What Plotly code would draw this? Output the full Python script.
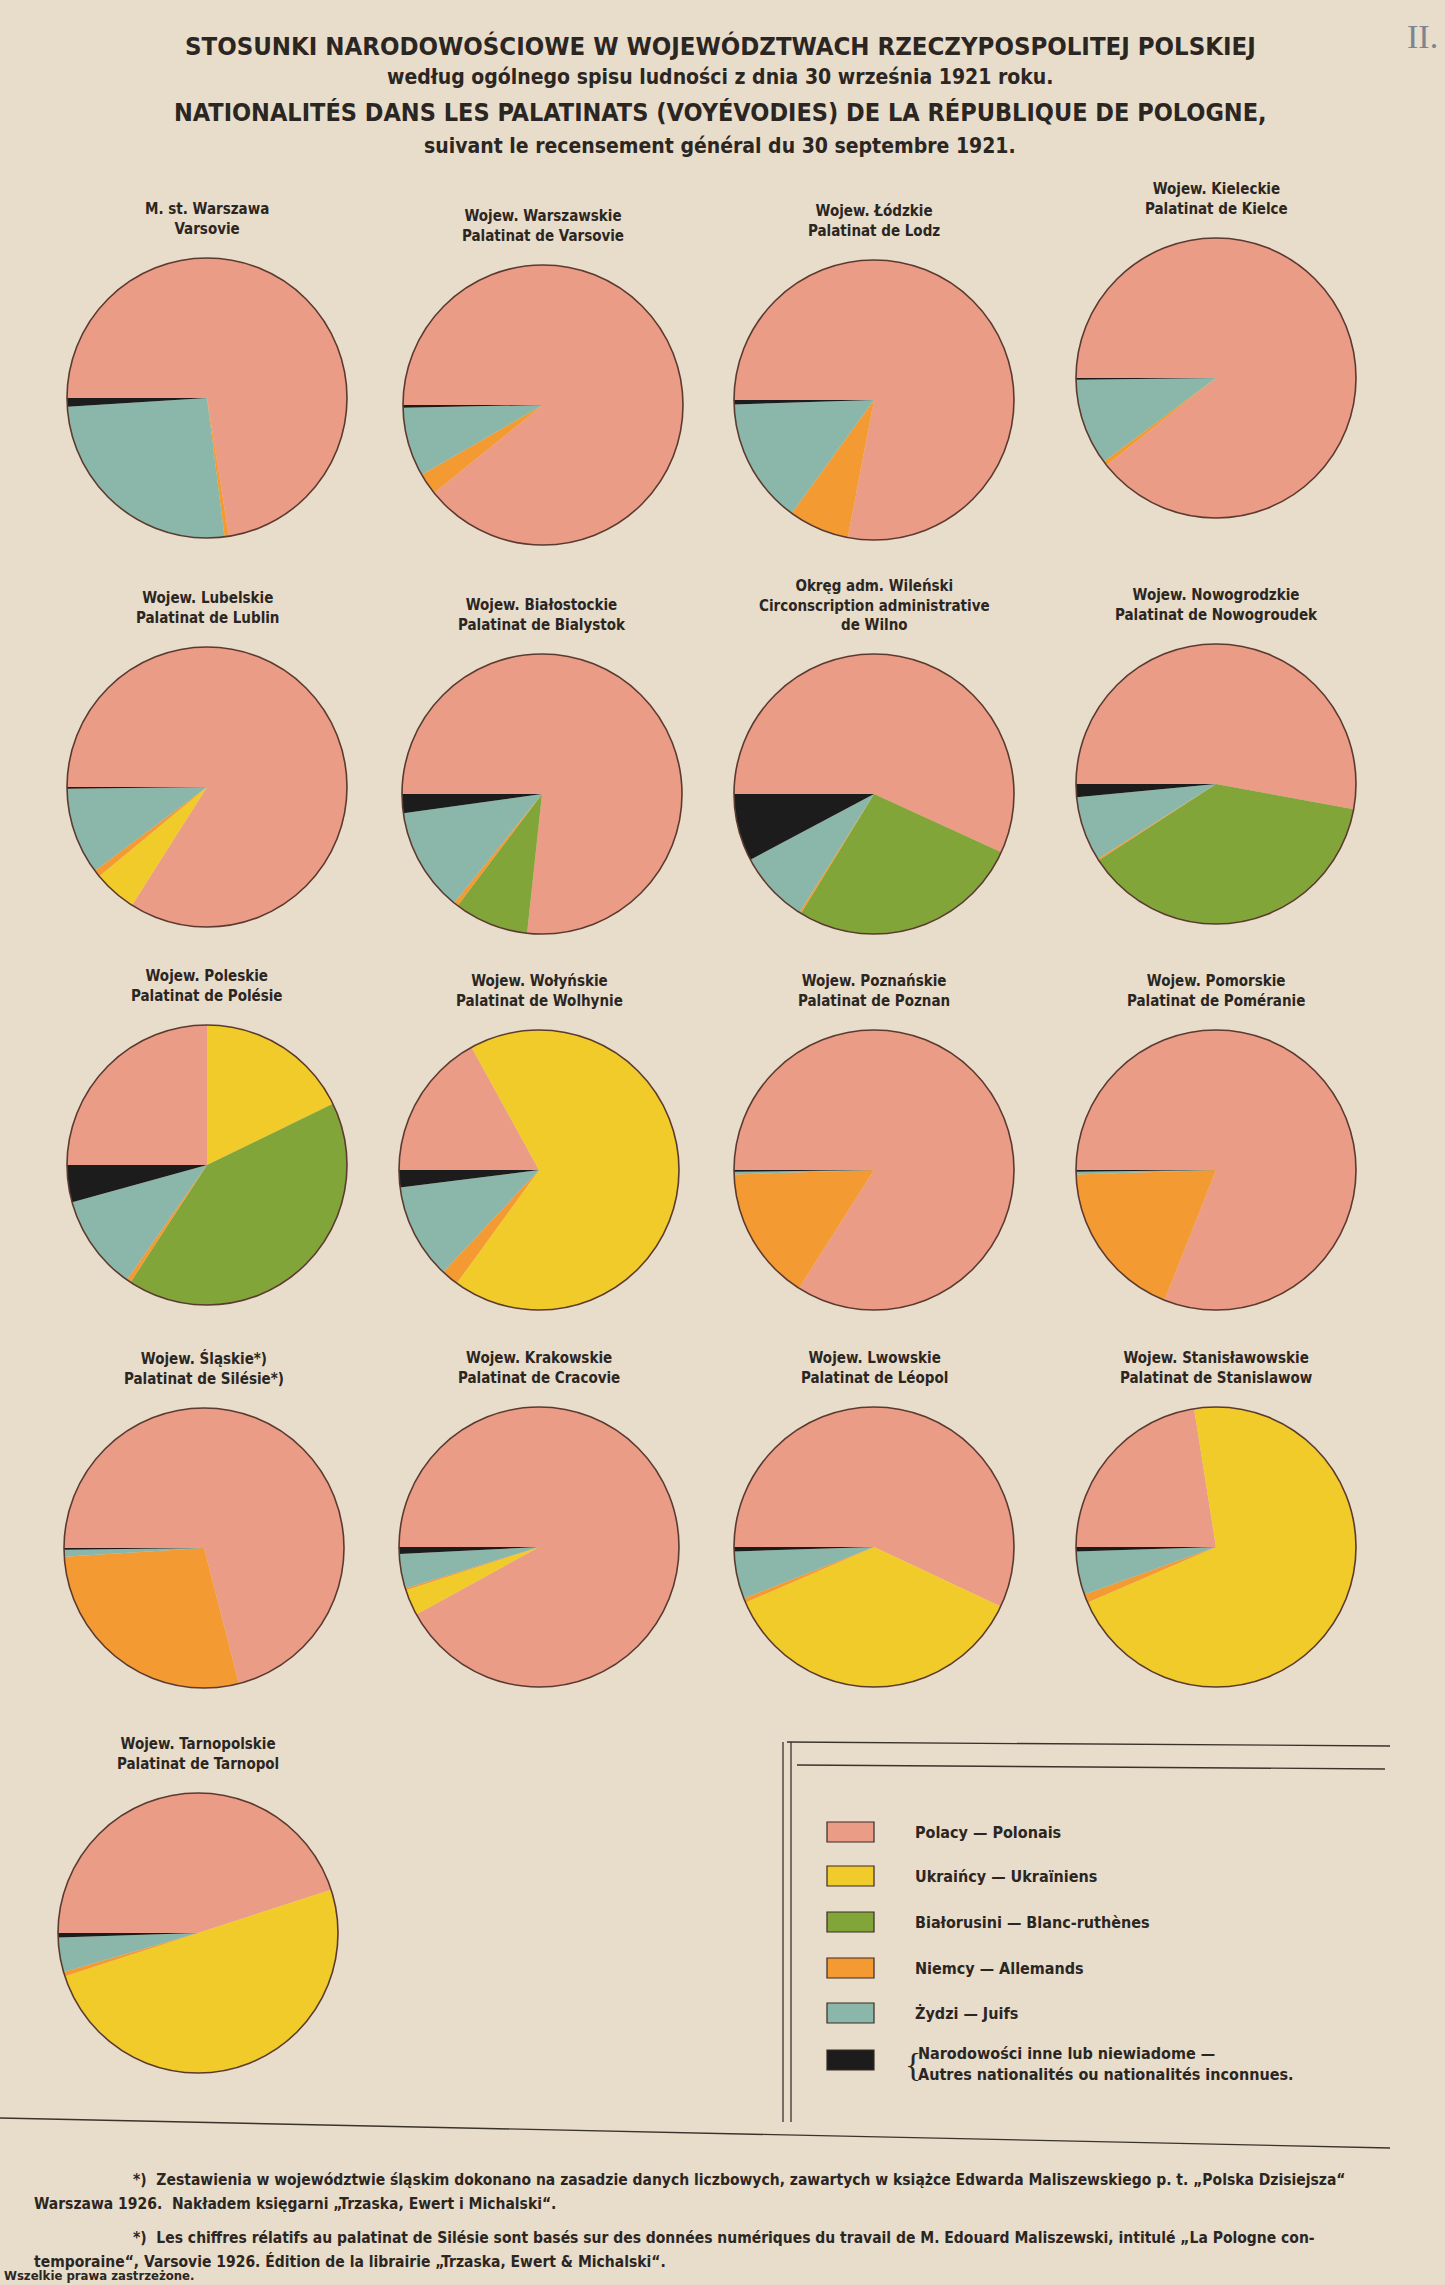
import plotly.graph_objects as go

W, H = 1445, 2285

# ---------------- data ----------------
labels_pl = ["M. st. Warszawa", "Wojew. Warszawskie", "Wojew. Łódzkie", "Wojew. Kieleckie",
             "Wojew. Lubelskie", "Wojew. Białostockie", "Okręg adm. Wileński", "Wojew. Nowogrodzkie",
             "Wojew. Poleskie", "Wojew. Wołyńskie", "Wojew. Poznańskie", "Wojew. Pomorskie",
             "Wojew. Śląskie*)", "Wojew. Krakowskie", "Wojew. Lwowskie", "Wojew. Stanisławowskie",
             "Wojew. Tarnopolskie"]
labels_fr = ["Varsovie", "Palatinat de Varsovie", "Palatinat de Lodz", "Palatinat de Kielce",
             "Palatinat de Lublin", "Palatinat de Bialystok", "Circonscription administrative<br>de Wilno",
             "Palatinat de Nowogroudek", "Palatinat de Polésie", "Palatinat de Wolhynie",
             "Palatinat de Poznan", "Palatinat de Poméranie", "Palatinat de Silésie*)",
             "Palatinat de Cracovie", "Palatinat de Léopol", "Palatinat de Stanislawow",
             "Palatinat de Tarnopol"]

nationalities = ["Polacy — Polonais", "Ukraińcy — Ukraïniens", "Białorusini — Blanc-ruthènes",
                 "Niemcy — Allemands", "Żydzi — Juifs",
                 "Narodowości inne lub niewiadome —<br>Autres nationalités ou nationalités inconnues."]

polacy      = [72.5, 89.2, 78.0, 89.3, 84.0, 76.7, 57.0, 53.0, 25.0, 17.0, 84.0, 81.0, 71.0, 92.0, 57.0, 22.5, 45.0]
ukraincy    = [0.0,  0.0,  0.0,  0.0,  5.0,  0.0,  0.0,  0.0, 17.8, 68.0,  0.0,  0.0,  0.0,  3.0, 36.5, 71.0, 50.0]
bialorusini = [0.0,  0.0,  0.0,  0.0,  0.0,  8.6, 27.0, 38.0, 41.4,  0.0,  0.0,  0.0,  0.0,  0.0,  0.0,  0.0,  0.0]
niemcy      = [0.5,  2.5,  7.0,  0.5,  0.8,  0.5,  0.2,  0.2,  0.5,  2.0, 15.5, 18.5, 28.0,  0.2,  0.5,  1.0,  0.5]
zydzi       = [26.0, 8.0, 14.5, 10.0, 10.0, 12.0,  8.3,  7.5, 11.0, 11.0,  0.3,  0.3,  0.8,  4.0,  5.5,  5.0,  4.0]
inne        = [1.0,  0.3,  0.5,  0.2,  0.2,  2.2,  7.8,  1.5,  4.3,  2.0,  0.2,  0.2,  0.2,  0.8,  0.5,  0.5,  0.5]

series = [polacy, ukraincy, bialorusini, niemcy, zydzi, inne]

# ---------------- styling / layout ----------------
colors = ["#eb9c86", "#f1cb2a", "#82a53a", "#f39a33", "#8bb7aa", "#1c1c1c"]
paper = "#e8dcca"
ink = "#2b2622"
FONT = "Liberation Sans Narrow, DejaVu Sans Condensed, Liberation Sans, Arial, sans-serif"

centers = [(207, 398), (543, 405), (874, 400), (1216, 378),
           (207, 787), (542, 794), (874, 794), (1216, 784),
           (207, 1165), (539, 1170), (874, 1170), (1216, 1170),
           (204, 1548), (539, 1547), (874, 1547), (1216, 1547),
           (198, 1933)]
R = 140

fig = go.Figure()
shapes = []
annotations = []

for i, (cx, cy) in enumerate(centers):
    vals = [s[i] for s in series]
    fig.add_trace(go.Pie(
        labels=nationalities, values=vals, sort=False, direction="clockwise",
        rotation=270, textinfo="none", hoverinfo="label+percent",
        marker=dict(colors=colors, line=dict(width=0)),
        domain=dict(x=[(cx - R) / W, (cx + R) / W], y=[1 - (cy + R) / H, 1 - (cy - R) / H]),
        showlegend=False,
    ))
    shapes.append(dict(type="circle", xref="paper", yref="paper", layer="above",
                       x0=(cx - R) / W, x1=(cx + R) / W, y0=1 - (cy + R) / H, y1=1 - (cy - R) / H,
                       line=dict(color="#5b3a30", width=1.6)))
    annotations.append(dict(
        text=f"<b>{labels_pl[i]}<br>{labels_fr[i]}</b>", x=cx / W, y=1 - (cy - R - 18) / H,
        xref="paper", yref="paper", xanchor="center", yanchor="bottom", showarrow=False,
        align="center", font=dict(family=FONT, size=15, color=ink)))

# ---------------- title ----------------
title_lines = [
    ("STOSUNKI NARODOWOŚCIOWE W WOJEWÓDZTWACH RZECZYPOSPOLITEJ POLSKIEJ", 46, 25.5),
    ("według ogólnego spisu ludności z dnia 30 września 1921 roku.", 77, 21),
    ("NATIONALITÉS DANS LES PALATINATS (VOYÉVODIES) DE LA RÉPUBLIQUE DE POLOGNE,", 112, 25),
    ("suivant le recensement général du 30 septembre 1921.", 146, 21),
]
for txt, y, sz in title_lines:
    annotations.append(dict(text=f"<b>{txt}</b>", x=720 / W,
                            y=1 - y / H, xref="paper", yref="paper", xanchor="center",
                            yanchor="middle", showarrow=False,
                            font=dict(family=FONT, size=sz, color=ink)))
annotations.append(dict(text="II.", x=1440 / W, y=1 - 36 / H, xref="paper", yref="paper",
                        xanchor="right", yanchor="middle", showarrow=False,
                        font=dict(family="Liberation Serif, DejaVu Serif, serif", size=34, color="#7c8591")))

# ---------------- legend box ----------------
def hline(x0, x1, y0, y1, w=1.3, c="#3a332d"):
    shapes.append(dict(type="line", xref="paper", yref="paper", x0=x0 / W, x1=x1 / W,
                       y0=1 - y0 / H, y1=1 - y1 / H, line=dict(color=c, width=w)))

hline(783, 783, 1742, 2122)
hline(791, 791, 1742, 2122)
hline(787, 1390, 1742, 1746)
hline(797, 1385, 1765, 1769)
hline(0, 1390, 2118, 2148)

sw_y = [1832, 1876, 1922, 1968, 2013, 2060]
for k, (name, col) in enumerate(zip(nationalities, colors)):
    y = sw_y[k]
    shapes.append(dict(type="rect", xref="paper", yref="paper", x0=827 / W, x1=874 / W,
                       y0=1 - (y + 10) / H, y1=1 - (y - 10) / H, fillcolor=col,
                       line=dict(color="#3a2a22", width=1.2)))
    if k < 5:
        annotations.append(dict(text=f"<b>{name}</b>", x=913 / W, y=1 - y / H, xref="paper",
                                yref="paper", xanchor="left", yanchor="middle", showarrow=False,
                                font=dict(family=FONT, size=16, color=ink)))
    else:
        annotations.append(dict(text="{", x=903 / W, y=1 - (y + 4) / H, xref="paper", yref="paper",
                                xanchor="left", yanchor="middle", showarrow=False,
                                font=dict(family="Liberation Serif, serif", size=34, color=ink)))
        annotations.append(dict(text=f"<b>{name}</b>", x=916 / W, y=1 - (y + 4) / H, xref="paper",
                                yref="paper", xanchor="left", yanchor="middle", showarrow=False,
                                align="left", font=dict(family=FONT, size=16, color=ink)))

# ---------------- footnotes ----------------
foot = [
    ("*)  Zestawienia w województwie śląskim dokonano na zasadzie danych liczbowych, zawartych w książce Edwarda Maliszewskiego p. t. „Polska Dzisiejsza“", 131, 2180, 15.5),
    ("Warszawa 1926.  Nakładem księgarni „Trzaska, Ewert i Michalski“.", 32, 2204, 15.5),
    ("*)  Les chiffres rélatifs au palatinat de Silésie sont basés sur des données numériques du travail de M. Edouard Maliszewski, intitulé „La Pologne con-", 131, 2238, 15.5),
    ("temporaine“, Varsovie 1926. Édition de la librairie „Trzaska, Ewert & Michalski“.", 32, 2261, 15.5),
    ("Wszelkie prawa zastrzeżone.", 2, 2275, 13),
]
for txt, x, y, sz in foot:
    annotations.append(dict(text=f"<b>{txt}</b>", x=x / W, y=1 - y / H, xref="paper", yref="paper",
                            xanchor="left", yanchor="middle", showarrow=False,
                            font=dict(family=FONT, size=sz, color=ink)))

fig.update_layout(
    width=W, height=H, margin=dict(l=0, r=0, t=0, b=0),
    paper_bgcolor=paper, plot_bgcolor=paper,
    shapes=shapes, annotations=annotations, showlegend=False,
)

fig.write_html("out.html")
